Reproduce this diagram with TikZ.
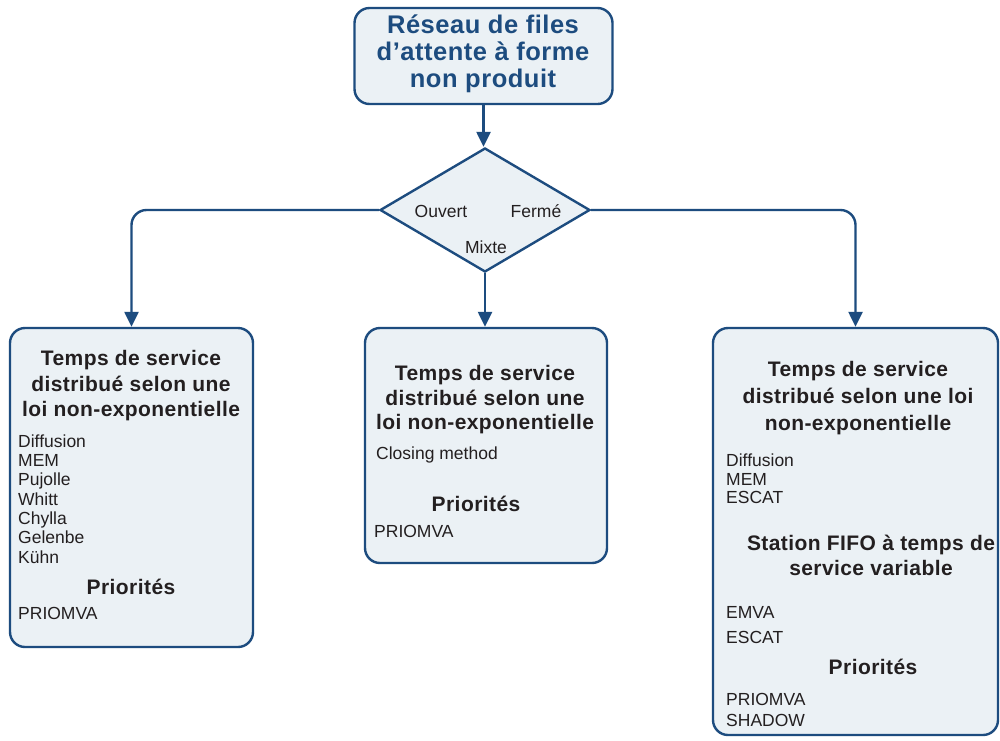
\documentclass[tikz,border=0pt]{standalone}
\usepackage{fontspec}
\setmainfont{Liberation Sans}
\newfontfamily\headfont[LetterSpace=2]{Liberation Sans Bold}
\newfontfamily\titlefont[LetterSpace=2]{Liberation Sans Bold}
\usetikzlibrary{shapes.geometric,arrows.meta}
\definecolor{bord}{HTML}{1D4C7F}
\definecolor{fillc}{HTML}{EBF1F5}
\definecolor{txt}{HTML}{231F20}
\tikzset{
  boxst/.style={draw=bord, line width=2.4pt, fill=fillc, rounded corners=15pt, inner sep=0pt},
  conn/.style={draw=bord, line width=2.4pt, rounded corners=15pt, -{Triangle[width=14pt,length=15pt]}},
  titlet/.style={font=\titlefont\fontsize{25.5}{27}\selectfont, text=bord, align=center, inner sep=0pt},
  headt/.style={font=\headfont\fontsize{21}{25.5}\selectfont, text=txt, align=center, inner sep=0pt},
  itemt/.style={font=\fontsize{17.5}{19.3}\selectfont, text=txt, align=left, inner sep=0pt, anchor=west},
}
\begin{document}
\begin{tikzpicture}[x=1pt,y=-1pt]
\clip (0,0) rectangle (1000,740);
\fill[white] (0,0) rectangle (1000,740);
% boxes
\node[boxst, minimum width=258pt, minimum height=96pt] (tb) at (483.5,56) {};
\node[boxst, shape=diamond, rounded corners=0pt, minimum width=210pt, minimum height=124pt] (d) at (485,210) {};
\node[boxst, minimum width=243pt, minimum height=319pt] (lb) at (131.5,487.5) {};
\node[boxst, minimum width=242pt, minimum height=235pt] (mb) at (486,445.5) {};
\node[boxst, minimum width=285pt, minimum height=407pt] (rb) at (855.5,531.5) {};
% connectors
\draw[conn] (tb.south) -- (tb.south |- d.north);
\draw[conn] (d.west) -| (lb.north);
\draw[conn] (d.east) -| (rb.north);
\draw[conn] (d.south) -- (d.south |- mb.north);
% title
\node[titlet] (tt) at (483,54) {Réseau de files\\d’attente à forme\\non produit};
% diamond labels
\node[itemt, anchor=center] (ouv) at (441,211) {Ouvert};
\node[itemt, anchor=center] (fer) at (536,211) {Fermé};
\node[itemt, anchor=center] (mix) at (486,247) {Mixte};
% left box
\node[headt] (lh) at (131,386) {Temps de service\\distribué selon une\\loi non-exponentielle};
\node[itemt] (ll) at (18,499) {Diffusion\\MEM\\Pujolle\\Whitt\\Chylla\\Gelenbe\\Kühn};
\node[headt] (lp) at (131,587) {Priorités};
\node[itemt] (lpr) at (18,613) {PRIOMVA};
% middle box
\node[headt, font=\headfont\fontsize{21}{24.5}\selectfont] (mh) at (485,400) {Temps de service\\distribué selon une\\loi non-exponentielle};
\node[itemt] (mc) at (376,455) {Closing method};
\node[headt] (mp) at (476,504) {Priorités};
\node[itemt] (mpr) at (374,531) {PRIOMVA};
% right box
\node[headt, font=\headfont\fontsize{21}{27}\selectfont] (rh) at (858,398.5) {Temps de service\\distribué selon une loi\\non-exponentielle};
\node[itemt, font=\fontsize{17.5}{18.5}\selectfont] (rl) at (726,479) {Diffusion\\MEM\\ESCAT};
\node[headt, font=\headfont\fontsize{21}{25}\selectfont] (rf) at (871,555) {Station FIFO à temps de\\service variable};
\node[itemt] (re1) at (726,612) {EMVA};
\node[itemt] (re2) at (726,637) {ESCAT};
\node[headt] (rp) at (873,667) {Priorités};
\node[itemt, font=\fontsize{17.5}{21}\selectfont] (rpr) at (726,709.5) {PRIOMVA\\SHADOW};
\end{tikzpicture}
\end{document}
